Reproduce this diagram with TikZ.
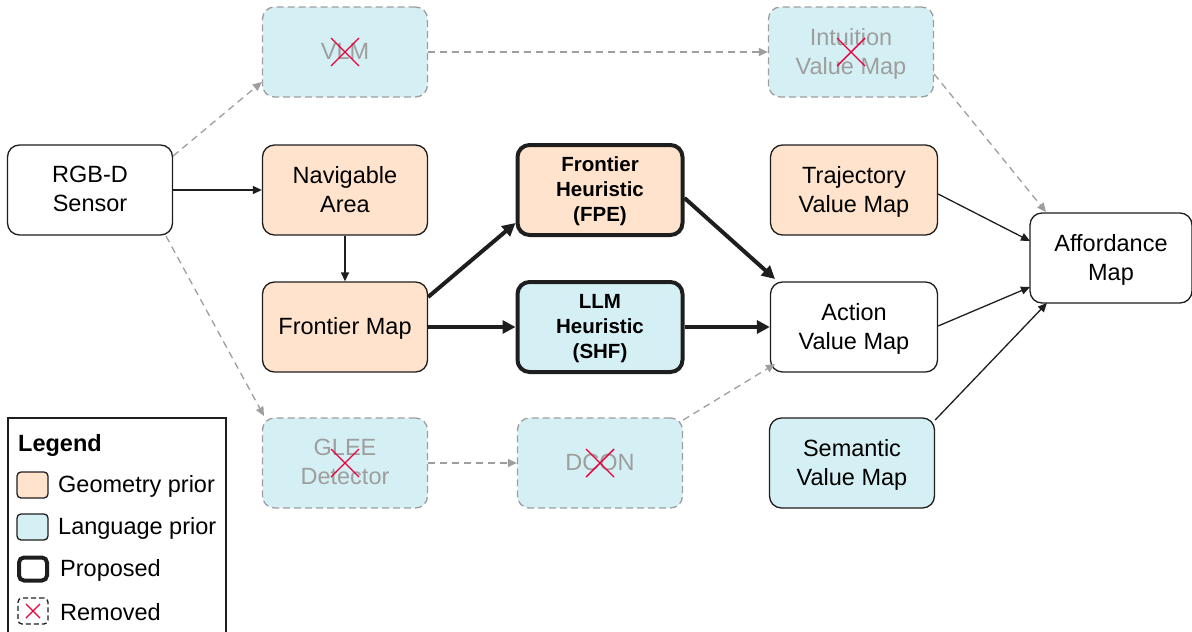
\documentclass[tikz,border=0pt]{standalone}
\usepackage{fontspec}
\setmainfont{Liberation Sans}
\usetikzlibrary{arrows.meta}
\definecolor{geo}{HTML}{FFE3CC}
\definecolor{lang}{HTML}{D5F0F4}
\definecolor{remgray}{HTML}{9E9E9E}
\definecolor{xred}{HTML}{E8003A}
\definecolor{ink}{HTML}{1E1E1E}
\begin{document}
\begin{tikzpicture}[x=1pt,y=-1pt,
  box/.style={draw=ink, line width=1.3pt, rounded corners=12pt, minimum width=165pt, minimum height=90pt, align=center, font=\fontsize{23.5}{29}\selectfont, inner sep=0pt, text depth=2pt},
  geobox/.style={box, fill=geo},
  langbox/.style={box, fill=lang},
  propbox/.style={line width=4pt, font=\fontsize{20.5}{25}\selectfont\bfseries},
  rembox/.style={box, fill=lang, draw=remgray, dash pattern=on 7pt off 4pt, text=remgray},
  xcross/.style={draw=xred, line width=1.4pt},
  arr/.style={draw=ink, line width=1.3pt, -{Triangle[length=9pt,width=8pt]}},
  thickarr/.style={draw=ink, line width=4pt, -{Triangle[length=13pt,width=13pt]}},
  remarr/.style={draw=remgray, line width=1.3pt, dash pattern=on 7pt off 5pt, -{Triangle[length=9pt,width=8pt]}},
  legtext/.style={anchor=west, font=\fontsize{23.5}{28}\selectfont, inner sep=0pt},
  swatch/.style={draw=ink, line width=1.3pt, rounded corners=4pt, minimum width=31pt, minimum height=26pt, inner sep=0pt}
]
\useasboundingbox (0,0) rectangle (1192,632);

% nodes
\node[box, fill=white] (rgbd) at (90,190) {RGB-D\\Sensor};
\node[rembox] (vlm) at (345,52) {VLM};
\node[geobox] (nav) at (345,190) {Navigable\\Area};
\node[geobox] (fmap) at (345,327) {Frontier Map};
\node[rembox] (glee) at (345,463) {GLEE\\Detector};
\node[geobox, propbox] (fpe) at (600,190) {Frontier\\Heuristic\\(FPE)};
\node[langbox, propbox] (llm) at (600,327) {LLM\\Heuristic\\(SHF)};
\node[rembox] (dcon) at (600,463) {DCON};
\node[rembox] (intu) at (851,52) {Intuition\\Value Map};
\node[geobox, minimum width=167pt] (traj) at (854,190) {Trajectory\\Value Map};
\node[box, fill=white, minimum width=167pt] (act) at (854,327) {Action\\Value Map};
\node[langbox] (sem) at (852,463) {Semantic\\Value Map};
\node[box, fill=white, minimum width=162pt] (aff) at (1111,258) {Affordance\\Map};

% removed crosses
\foreach \n in {vlm,glee,dcon,intu}{
  \draw[xcross] ([shift={(-14,-14)}]\n.center) -- ([shift={(14,14)}]\n.center);
  \draw[xcross] ([shift={(-14,14)}]\n.center) -- ([shift={(14,-14)}]\n.center);
}

% connectors
\draw[arr] (rgbd.east) -- (nav.west);
\draw[arr] (nav.south) -- (fmap.north);
\draw[thickarr] (fmap.east |- 0,297) -- (fpe.west |- 0,223);
\draw[thickarr] (fmap.east) -- (llm.west);
\draw[thickarr] (fpe.east |- 0,198) -- (775,279);
\draw[thickarr] (llm.east) -- (act.west);
\draw[arr] (traj.east |- 0,194) -- (1030,241);
\draw[arr] (act.east |- 0,326) -- (1030,287);
\draw[arr] (sem.east |- 0,420) -- (1047,303);

\draw[remarr] (rgbd.east |- 0,156) -- (vlm.west |- 0,82);
\draw[remarr] (166,236) -- (264,416);
\draw[remarr] (vlm.east) -- (intu.west);
\draw[remarr] (intu.east |- 0,74) -- (1046,212);
\draw[remarr] (glee.east) -- (dcon.west);
\draw[remarr] (dcon.east |- 0,420) -- (775,364);

% legend
\draw[ink, line width=1.3pt] (8,640) -- (8,418) -- (226,418) -- (226,640);
\node[anchor=base west, font=\fontsize{23.5}{28}\selectfont\bfseries, inner sep=0pt] (legt) at (18,451) {Legend};
\node[swatch, fill=geo] (sg) at (32.5,485) {};
\node[swatch, fill=lang] (sl) at (32.5,527) {};
\node[swatch, line width=4pt, minimum width=28pt, minimum height=23pt, rounded corners=5pt] (sp) at (33,569) {};
\node[swatch, dash pattern=on 5pt off 3pt, minimum width=30pt, minimum height=26pt] (sr) at (33,611) {};
\draw[xcross] ([shift={(-7,-7)}]sr.center) -- ([shift={(7,7)}]sr.center);
\draw[xcross] ([shift={(-7,7)}]sr.center) -- ([shift={(7,-7)}]sr.center);
\node[legtext] (lg) at (58,486) {Geometry prior};
\node[legtext] (ll) at (58,528) {Language prior};
\node[legtext] (lp) at (60,570) {Proposed};
\node[legtext] (lr) at (60,612) {Removed};
\end{tikzpicture}
\end{document}
